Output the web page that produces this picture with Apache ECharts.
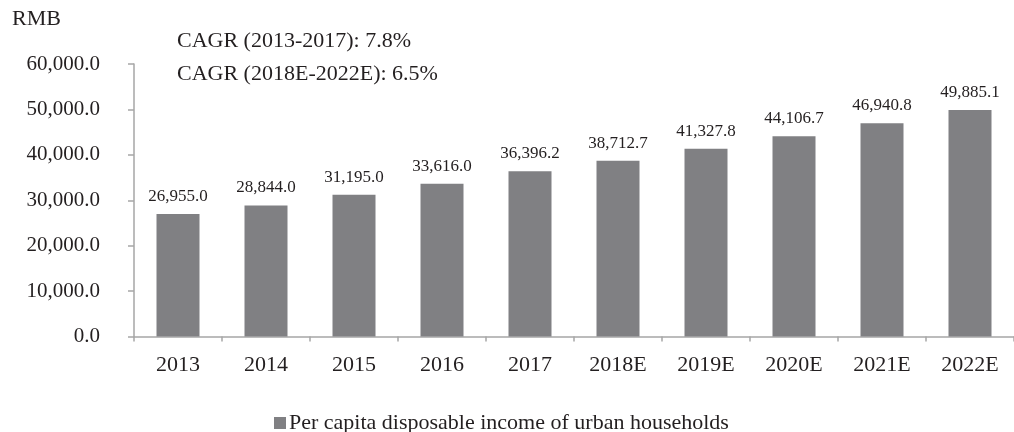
<!DOCTYPE html>
<html>
<head>
<meta charset="utf-8">
<title>Per capita disposable income of urban households</title>
<script src="https://cdn.jsdelivr.net/npm/echarts@6/dist/echarts.min.js"></script>
<style>
  html, body { margin: 0; padding: 0; background: #ffffff; }
  #chart { width: 1014px; height: 432px; }
</style>
</head>
<body>
<div id="chart"></div>
<script>
// Years shown along the category axis
const years = ['2013', '2014', '2015', '2016', '2017', '2018E', '2019E', '2020E', '2021E', '2022E'];
// Per capita disposable income of urban households, RMB
const income = [26955.0, 28844.0, 31195.0, 33616.0, 36396.2, 38712.7, 41327.8, 44106.7, 46940.8, 49885.1];
// Value axis range and step
const yMin = 0;
const yMax = 60000;
const yStep = 10000;
// Annotation texts
const unitLabel = 'RMB';
const cagrNotes = ['CAGR (2013-2017): 7.8%', 'CAGR (2018E-2022E): 6.5%'];
const seriesName = 'Per capita disposable income of urban households';

const FONT = '"Liberation Serif", "Times New Roman", serif';
const TEXT = '#231f20';
const BAR = '#808083';
const AXIS = '#a6a6a6';

const fmt = v => Number(v).toLocaleString('en-US', { minimumFractionDigits: 1, maximumFractionDigits: 1 });

const chart = echarts.init(document.getElementById('chart'), null, { renderer: 'canvas' });

chart.setOption({
  animation: false,
  backgroundColor: '#ffffff',
  textStyle: { fontFamily: FONT, color: TEXT },
  grid: { left: 134, top: 64, width: 883, bottom: 95.5, containLabel: false },
  legend: {
    data: [seriesName],
    left: 269,
    top: 407,
    itemWidth: 12,
    itemHeight: 12,
    itemGap: 10,
    icon: 'rect',
    textStyle: { fontFamily: FONT, fontSize: 22, color: TEXT, padding: [0, 0, 0, -2] }
  },
  xAxis: {
    type: 'category',
    data: years,
    axisLine: { lineStyle: { color: AXIS, width: 1.5 } },
    axisTick: { show: true, length: 5, lineStyle: { color: AXIS, width: 1.5 } },
    axisLabel: { fontFamily: FONT, fontSize: 22, color: TEXT, margin: 18 }
  },
  yAxis: {
    type: 'value',
    min: yMin,
    max: yMax,
    interval: yStep,
    splitLine: { show: false },
    axisLine: { show: true, lineStyle: { color: AXIS, width: 1.5 } },
    axisTick: { show: true, length: 6, lineStyle: { color: AXIS, width: 1.5 } },
    axisLabel: { fontFamily: FONT, fontSize: 21, color: TEXT, margin: 34, formatter: fmt }
  },
  series: [{
    name: seriesName,
    type: 'bar',
    data: income,
    barWidth: 43,
    itemStyle: { color: BAR },
    label: {
      show: true,
      position: 'top',
      distance: 9,
      fontFamily: FONT,
      fontSize: 17,
      color: TEXT,
      formatter: p => fmt(p.value)
    }
  }],
  graphic: [
    { type: 'text', left: 12, top: 8, style: { text: unitLabel, font: '22px ' + FONT, fill: TEXT } },
    { type: 'text', left: 177, top: 30, style: { text: cagrNotes[0], font: '22px ' + FONT, fill: TEXT } },
    { type: 'text', left: 177, top: 63, style: { text: cagrNotes[1], font: '22px ' + FONT, fill: TEXT } }
  ]
});
</script>
</body>
</html>
